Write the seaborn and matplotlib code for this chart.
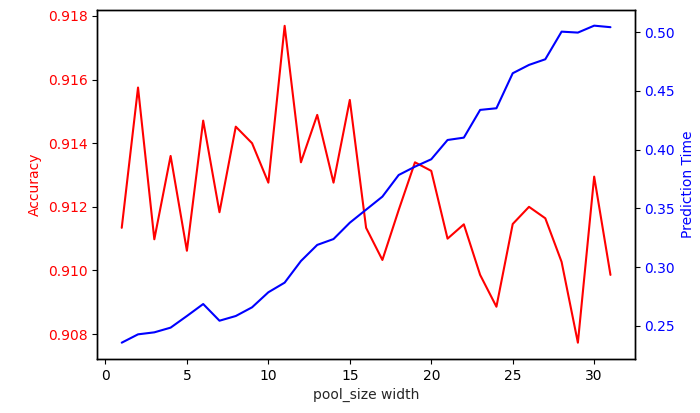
import matplotlib
matplotlib.use("Agg")
import matplotlib.pyplot as plt
import seaborn as sns
import pandas as pd

pool_width = list(range(1, 32))
accuracy = [0.91134, 0.91575, 0.91098, 0.91360, 0.91062, 0.91471, 0.91183,
            0.91452, 0.91400, 0.91276, 0.91769, 0.91340, 0.91489, 0.91276,
            0.91536, 0.91134, 0.91033, 0.91190, 0.91340, 0.91313, 0.91100,
            0.91145, 0.90986, 0.90886, 0.91146, 0.91200, 0.91164, 0.91027,
            0.90773, 0.91295, 0.90986]
pred_time = [0.2358, 0.2429, 0.2446, 0.2486, 0.2585, 0.2687, 0.2545, 0.2585,
             0.2659, 0.2787, 0.2869, 0.3053, 0.3190, 0.3240, 0.3379, 0.3490,
             0.3601, 0.3785, 0.3856, 0.3919, 0.4083, 0.4103, 0.4339, 0.4353,
             0.4651, 0.4722, 0.4770, 0.5005, 0.4997, 0.5056, 0.5043]

df = pd.DataFrame({"pool_size width": pool_width,
                   "Accuracy": accuracy,
                   "Prediction Time": pred_time})

sns.set_style("ticks")
plt.rcParams.update({
    "font.family": ["DejaVu Sans"],
    "font.size": 10,
    "axes.edgecolor": "black",
    "axes.linewidth": 1.0,
    "xtick.color": "black",
    "ytick.color": "black",
    "xtick.major.size": 3.5,
    "ytick.major.size": 3.5,
})

fig, ax1 = plt.subplots(figsize=(7.0, 4.13), dpi=100)
fig.subplots_adjust(left=0.139, right=0.907, top=0.976, bottom=0.131)

sns.lineplot(data=df, x="pool_size width", y="Accuracy", color="red",
             linewidth=1.5, ax=ax1)
ax1.set_ylabel("Accuracy", color="red", fontsize=10)
ax1.set_xlabel("pool_size width", fontsize=10)
ax1.tick_params(axis="y", labelcolor="red", labelsize=10)
ax1.tick_params(axis="x", labelsize=10)
ax1.set_yticks([0.908, 0.910, 0.912, 0.914, 0.916, 0.918])
ax1.set_yticklabels(["0.908", "0.910", "0.912", "0.914", "0.916", "0.918"])
ax1.set_xlim(-0.5, 32.5)
ax1.set_ylim(0.90722, 0.91819)

ax2 = ax1.twinx()
sns.lineplot(data=df, x="pool_size width", y="Prediction Time", color="blue",
             linewidth=1.5, ax=ax2)
ax2.set_ylabel("Prediction Time", color="blue", fontsize=10)
ax2.tick_params(axis="y", labelcolor="blue", labelsize=10)
ax2.set_yticks([0.25, 0.30, 0.35, 0.40, 0.45, 0.50])
ax2.set_yticklabels(["0.25", "0.30", "0.35", "0.40", "0.45", "0.50"])
ax2.set_ylim(0.222, 0.519)

for ax in (ax1, ax2):
    for s in ax.spines.values():
        s.set_visible(True)
        s.set_color("black")

fig.savefig("out.png", dpi=100)
